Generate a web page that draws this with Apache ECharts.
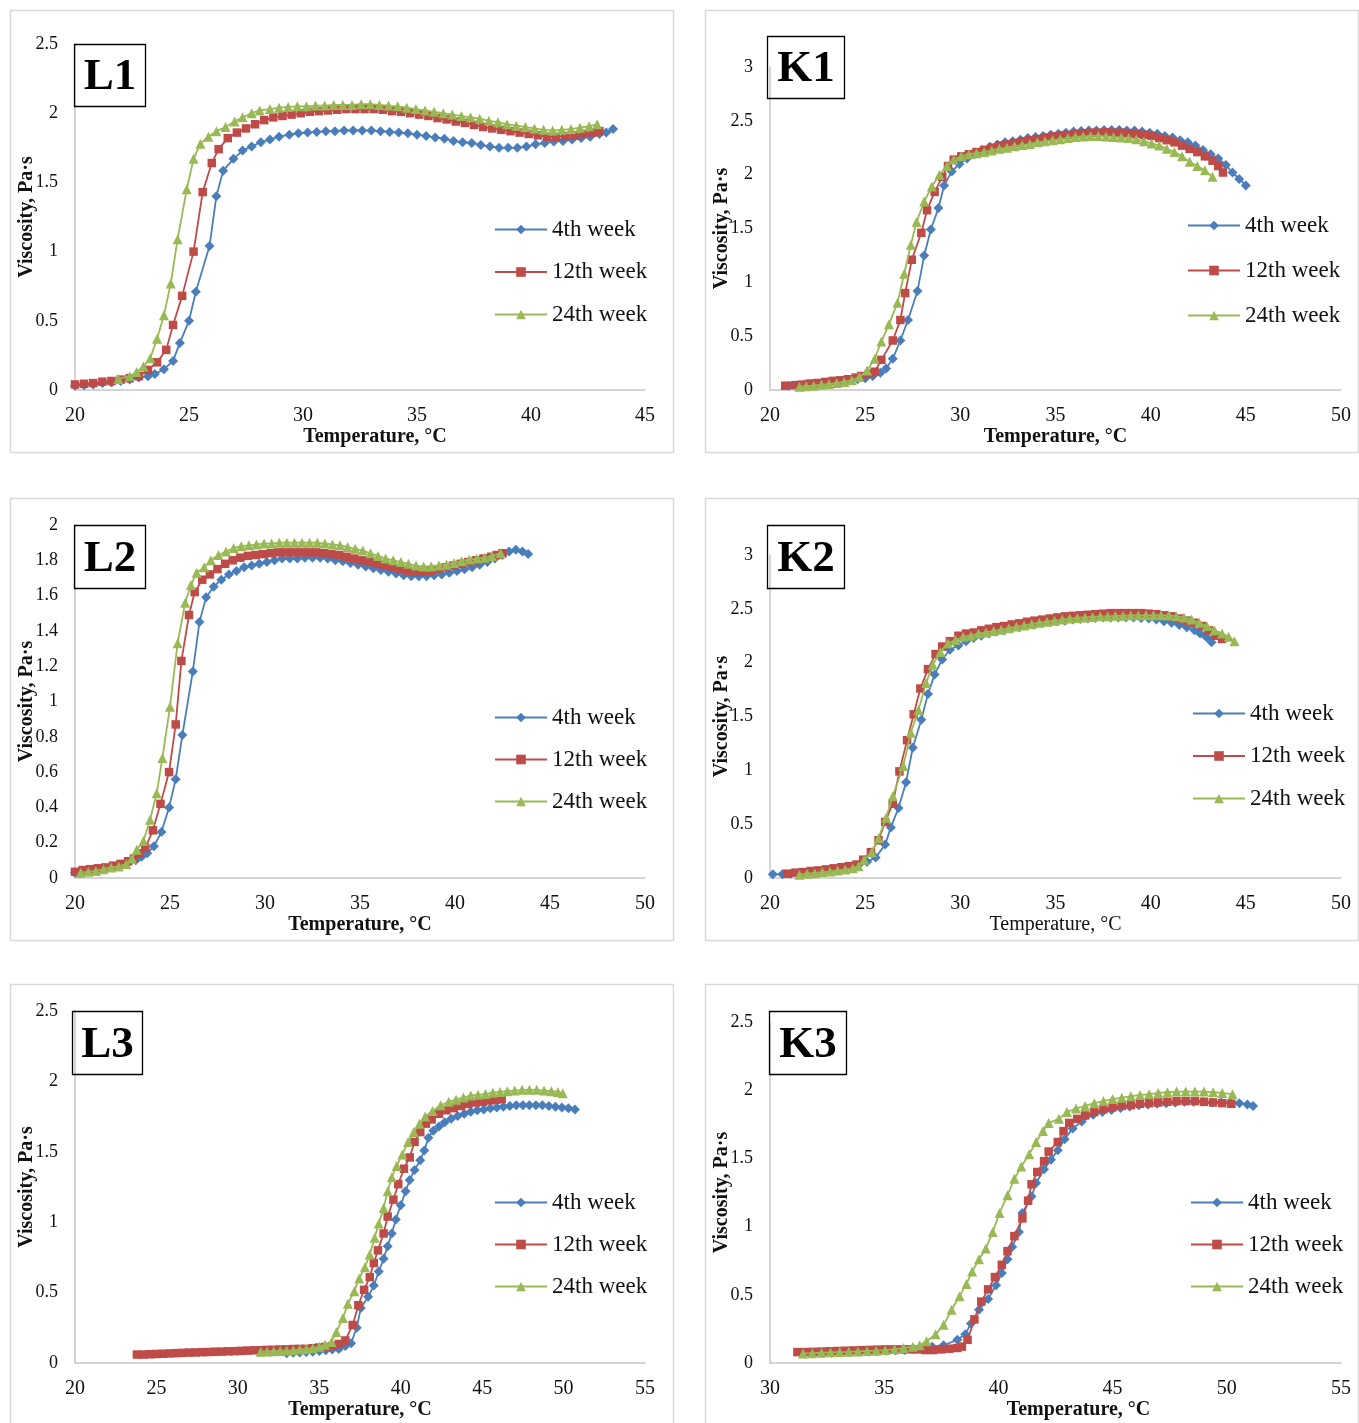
<!DOCTYPE html>
<html>
<head>
<meta charset="utf-8">
<title>Viscosity vs temperature</title>
<script src="https://cdn.jsdelivr.net/npm/echarts@6/dist/echarts.min.js"></script>
<style>
  html, body { margin: 0; padding: 0; background: #fff; }
  #chart { width: 1359px; height: 1423px; }
</style>
</head>
<body>
<div id="chart"></div>
<script>
// Series appearance shared by every panel
const weekNames = ['4th week', '12th week', '24th week'];
const weekColors = ['#4a7ebb', '#be4b48', '#98b954'];
const weekSymbols = ['diamond', 'rect', 'triangle'];
const weekSymbolSizes = [10, 8.5, 10];

// Panel labels, axis titles and axis ranges [min, max, interval]
const panelLabels = ['L1', 'K1', 'L2', 'K2', 'L3', 'K3'];
const xTitle = 'Temperature, \u00b0C';
const yTitle = 'Viscosity, Pa\u00b7s';
const xRanges = [[20, 45, 5], [20, 50, 5], [20, 50, 5], [20, 50, 5], [20, 55, 5], [30, 55, 5]];
const yRanges = [[0, 2.5, 0.5], [0, 3, 0.5], [0, 2, 0.2], [0, 3, 0.5], [0, 2.5, 0.5], [0, 2.5, 0.5]];

// ---- L1: [temperature °C, viscosity Pa·s] ----
const l1Week4 = [[20.0,0.03],[20.4,0.035],[20.8,0.04],[21.2,0.05],[21.6,0.055],[22.0,0.065],[22.4,0.075],[22.8,0.09],[23.2,0.10],[23.5,0.115],[23.9,0.15],[24.3,0.21],[24.6,0.34],[25.0,0.50],[25.3,0.71],[25.9,1.04],[26.2,1.40],[26.5,1.585],[26.95,1.67],[27.35,1.73],[27.75,1.76],[28.15,1.79],[28.55,1.81],[28.95,1.83],[29.4,1.845],[29.8,1.855],[30.2,1.86],[30.6,1.865],[31.0,1.87],[31.4,1.87],[31.8,1.875],[32.2,1.875],[32.6,1.875],[33.0,1.875],[33.4,1.87],[33.8,1.865],[34.2,1.86],[34.6,1.855],[35.0,1.845],[35.4,1.835],[35.8,1.825],[36.2,1.815],[36.6,1.80],[37.0,1.79],[37.4,1.785],[37.8,1.77],[38.2,1.76],[38.6,1.75],[39.0,1.75],[39.4,1.75],[39.8,1.76],[40.2,1.775],[40.6,1.785],[41.0,1.795],[41.4,1.80],[41.8,1.81],[42.2,1.82],[42.6,1.83],[43.0,1.85],[43.3,1.86],[43.6,1.885]];
const l1Week12 = [[20.0,0.04],[20.4,0.045],[20.8,0.05],[21.2,0.06],[21.6,0.065],[22.0,0.075],[22.4,0.085],[22.8,0.10],[23.2,0.145],[23.6,0.20],[24.0,0.29],[24.3,0.47],[24.7,0.68],[25.2,1.00],[25.6,1.43],[26.0,1.64],[26.3,1.74],[26.7,1.82],[27.1,1.86],[27.5,1.89],[27.9,1.92],[28.3,1.95],[28.7,1.97],[29.1,1.98],[29.5,1.99],[29.9,2.00],[30.3,2.01],[30.7,2.015],[31.1,2.02],[31.5,2.025],[31.9,2.03],[32.3,2.03],[32.7,2.03],[33.1,2.03],[33.5,2.025],[33.9,2.015],[34.3,2.01],[34.7,2.0],[35.1,1.99],[35.5,1.98],[35.9,1.965],[36.3,1.955],[36.7,1.94],[37.1,1.93],[37.5,1.915],[37.9,1.90],[38.3,1.89],[38.7,1.88],[39.1,1.87],[39.5,1.86],[39.9,1.85],[40.3,1.84],[40.7,1.83],[41.1,1.83],[41.5,1.835],[41.9,1.84],[42.3,1.85],[42.7,1.86],[43.0,1.87]];
const l1Week24 = [[21.9,0.08],[22.4,0.10],[22.7,0.13],[23.0,0.17],[23.3,0.23],[23.6,0.37],[23.9,0.54],[24.2,0.77],[24.5,1.09],[24.9,1.45],[25.2,1.67],[25.5,1.78],[25.85,1.83],[26.2,1.87],[26.6,1.90],[27.0,1.94],[27.35,1.97],[27.75,2.00],[28.1,2.02],[28.55,2.03],[28.95,2.04],[29.35,2.045],[29.75,2.05],[30.15,2.05],[30.55,2.055],[30.95,2.055],[31.35,2.06],[31.75,2.06],[32.15,2.06],[32.55,2.065],[32.95,2.065],[33.35,2.06],[33.75,2.055],[34.15,2.05],[34.55,2.04],[34.95,2.03],[35.35,2.02],[35.75,2.01],[36.15,2.0],[36.55,1.99],[36.95,1.98],[37.35,1.97],[37.75,1.96],[38.15,1.945],[38.55,1.935],[38.95,1.92],[39.35,1.91],[39.75,1.90],[40.15,1.89],[40.55,1.88],[40.95,1.875],[41.35,1.88],[41.75,1.885],[42.15,1.895],[42.55,1.905],[42.9,1.92]];

// ---- K1 ----
const k1Week4 = [[21.0,0.04],[21.4,0.045],[21.8,0.05],[22.2,0.055],[22.6,0.06],[23.0,0.07],[23.4,0.075],[23.8,0.08],[24.2,0.09],[24.6,0.10],[25.0,0.11],[25.4,0.13],[25.8,0.16],[26.1,0.20],[26.45,0.29],[26.85,0.46],[27.25,0.65],[27.75,0.92],[28.1,1.25],[28.45,1.49],[28.85,1.69],[29.15,1.90],[29.55,2.03],[29.95,2.10],[30.35,2.15],[30.75,2.19],[31.15,2.23],[31.55,2.26],[31.95,2.28],[32.35,2.30],[32.75,2.31],[33.15,2.325],[33.55,2.34],[33.95,2.35],[34.35,2.36],[34.75,2.37],[35.15,2.38],[35.55,2.39],[35.95,2.40],[36.35,2.405],[36.75,2.41],[37.15,2.41],[37.55,2.415],[37.95,2.415],[38.35,2.415],[38.75,2.41],[39.15,2.41],[39.55,2.40],[39.95,2.39],[40.35,2.38],[40.75,2.36],[41.15,2.345],[41.55,2.32],[41.95,2.30],[42.35,2.27],[42.75,2.23],[43.15,2.19],[43.55,2.15],[43.95,2.09],[44.3,2.02],[44.65,1.96],[45.0,1.90]];
const k1Week12 = [[20.8,0.04],[21.3,0.045],[21.7,0.05],[22.1,0.06],[22.5,0.065],[22.9,0.075],[23.3,0.085],[23.7,0.09],[24.1,0.10],[24.5,0.115],[24.8,0.13],[25.2,0.15],[25.5,0.17],[25.85,0.28],[26.45,0.46],[26.85,0.65],[27.1,0.90],[27.45,1.21],[27.95,1.46],[28.25,1.67],[28.65,1.84],[29.05,1.98],[29.35,2.08],[29.65,2.14],[30.05,2.17],[30.45,2.19],[30.85,2.21],[31.25,2.23],[31.65,2.25],[32.05,2.27],[32.45,2.28],[32.85,2.295],[33.25,2.31],[33.65,2.32],[34.05,2.33],[34.45,2.345],[34.85,2.355],[35.25,2.365],[35.65,2.37],[36.05,2.38],[36.45,2.385],[36.85,2.39],[37.25,2.39],[37.65,2.395],[38.05,2.39],[38.45,2.39],[38.85,2.385],[39.25,2.38],[39.65,2.37],[40.05,2.36],[40.45,2.34],[40.85,2.32],[41.25,2.30],[41.65,2.27],[42.05,2.24],[42.45,2.21],[42.85,2.17],[43.25,2.13],[43.55,2.08],[43.8,2.02]];
const k1Week24 = [[21.55,0.03],[21.9,0.035],[22.3,0.04],[22.7,0.05],[23.1,0.055],[23.5,0.065],[23.9,0.075],[24.3,0.09],[24.7,0.12],[25.1,0.18],[25.5,0.29],[25.85,0.45],[26.25,0.61],[26.7,0.81],[27.05,1.08],[27.4,1.35],[27.7,1.56],[28.1,1.75],[28.5,1.89],[28.9,2.00],[29.3,2.08],[29.65,2.14],[30.05,2.17],[30.45,2.19],[30.85,2.20],[31.25,2.21],[31.65,2.225],[32.05,2.24],[32.45,2.25],[32.85,2.265],[33.25,2.275],[33.65,2.285],[34.05,2.30],[34.45,2.31],[34.85,2.32],[35.25,2.33],[35.65,2.34],[36.05,2.35],[36.45,2.355],[36.85,2.36],[37.25,2.36],[37.65,2.355],[38.05,2.35],[38.45,2.345],[38.85,2.34],[39.25,2.33],[39.65,2.31],[40.05,2.29],[40.45,2.27],[40.85,2.24],[41.25,2.21],[41.65,2.17],[42.05,2.12],[42.45,2.08],[42.85,2.04],[43.25,1.98]];

// ---- L2 ----
const l2Week4 = [[20.0,0.03],[20.4,0.035],[20.8,0.04],[21.2,0.045],[21.6,0.05],[22.0,0.06],[22.4,0.07],[22.8,0.085],[23.2,0.10],[23.5,0.12],[23.8,0.14],[24.15,0.18],[24.55,0.26],[24.95,0.40],[25.3,0.56],[25.65,0.81],[26.2,1.17],[26.55,1.45],[26.9,1.59],[27.3,1.65],[27.7,1.69],[28.1,1.72],[28.5,1.74],[28.9,1.76],[29.3,1.77],[29.7,1.78],[30.1,1.79],[30.5,1.80],[30.9,1.81],[31.3,1.81],[31.7,1.81],[32.1,1.815],[32.5,1.815],[32.9,1.815],[33.3,1.81],[33.7,1.80],[34.1,1.795],[34.5,1.785],[34.9,1.775],[35.3,1.765],[35.7,1.755],[36.1,1.745],[36.5,1.735],[36.9,1.725],[37.3,1.715],[37.7,1.71],[38.1,1.71],[38.5,1.71],[38.9,1.715],[39.3,1.72],[39.7,1.73],[40.1,1.74],[40.5,1.75],[40.9,1.76],[41.3,1.775],[41.7,1.79],[42.1,1.81],[42.5,1.83],[42.85,1.85],[43.2,1.86],[43.55,1.85],[43.85,1.835]];
const l2Week12 = [[20.0,0.035],[20.4,0.045],[20.8,0.05],[21.2,0.055],[21.6,0.06],[22.0,0.07],[22.4,0.08],[22.8,0.095],[23.1,0.11],[23.4,0.14],[23.7,0.17],[24.1,0.27],[24.5,0.42],[24.95,0.60],[25.3,0.87],[25.6,1.23],[26.0,1.49],[26.3,1.62],[26.7,1.69],[27.1,1.72],[27.5,1.75],[27.9,1.78],[28.3,1.80],[28.7,1.815],[29.1,1.825],[29.5,1.83],[29.9,1.835],[30.3,1.84],[30.7,1.845],[31.1,1.845],[31.5,1.845],[31.9,1.845],[32.3,1.845],[32.7,1.845],[33.1,1.84],[33.5,1.835],[33.9,1.83],[34.3,1.82],[34.7,1.81],[35.1,1.80],[35.5,1.79],[35.9,1.78],[36.3,1.77],[36.7,1.76],[37.1,1.75],[37.5,1.74],[37.9,1.735],[38.3,1.735],[38.7,1.74],[39.1,1.75],[39.5,1.76],[39.9,1.77],[40.3,1.78],[40.7,1.79],[41.1,1.80],[41.5,1.81],[41.9,1.82],[42.2,1.83],[42.5,1.84]];
const l2Week24 = [[20.3,0.03],[20.7,0.035],[21.1,0.04],[21.5,0.05],[21.9,0.06],[22.3,0.065],[22.7,0.08],[23.0,0.11],[23.25,0.16],[23.6,0.21],[23.95,0.33],[24.3,0.48],[24.6,0.68],[25.0,0.97],[25.4,1.33],[25.8,1.56],[26.1,1.66],[26.4,1.73],[26.8,1.76],[27.15,1.80],[27.55,1.83],[27.95,1.85],[28.35,1.87],[28.75,1.88],[29.15,1.885],[29.55,1.89],[29.95,1.895],[30.35,1.895],[30.75,1.90],[31.15,1.90],[31.55,1.90],[31.95,1.90],[32.35,1.90],[32.75,1.90],[33.15,1.895],[33.55,1.89],[33.95,1.885],[34.35,1.875],[34.75,1.865],[35.15,1.855],[35.55,1.84],[35.95,1.825],[36.35,1.81],[36.75,1.80],[37.15,1.79],[37.55,1.78],[37.95,1.77],[38.35,1.765],[38.75,1.765],[39.15,1.77],[39.55,1.775],[39.95,1.785],[40.35,1.795],[40.75,1.805],[41.15,1.81],[41.55,1.815],[41.95,1.825],[42.4,1.84]];

// ---- K2 ----
const k2Week4 = [[20.15,0.035],[20.65,0.035],[21.1,0.04],[21.5,0.045],[21.9,0.05],[22.3,0.06],[22.7,0.065],[23.1,0.075],[23.5,0.085],[23.9,0.095],[24.3,0.11],[24.7,0.13],[25.1,0.15],[25.55,0.19],[26.05,0.31],[26.35,0.47],[26.75,0.65],[27.15,0.89],[27.5,1.21],[27.95,1.47],[28.3,1.71],[28.65,1.89],[29.05,2.03],[29.45,2.12],[29.9,2.16],[30.3,2.20],[30.7,2.23],[31.1,2.25],[31.5,2.27],[31.9,2.29],[32.3,2.30],[32.7,2.32],[33.1,2.33],[33.5,2.345],[33.9,2.355],[34.3,2.365],[34.7,2.375],[35.1,2.385],[35.5,2.39],[35.9,2.40],[36.3,2.405],[36.7,2.41],[37.1,2.415],[37.5,2.42],[37.9,2.42],[38.3,2.42],[38.7,2.42],[39.1,2.42],[39.5,2.415],[39.9,2.41],[40.3,2.40],[40.7,2.385],[41.1,2.37],[41.5,2.35],[41.9,2.33],[42.3,2.30],[42.6,2.27],[42.85,2.25],[43.05,2.22],[43.2,2.19]];
const k2Week12 = [[20.9,0.04],[21.35,0.05],[21.75,0.055],[22.15,0.065],[22.55,0.07],[22.95,0.08],[23.35,0.09],[23.75,0.10],[24.15,0.11],[24.55,0.125],[24.9,0.17],[25.3,0.24],[25.7,0.35],[26.05,0.52],[26.45,0.69],[26.8,0.99],[27.2,1.28],[27.55,1.52],[27.9,1.76],[28.3,1.94],[28.7,2.08],[29.05,2.15],[29.45,2.20],[29.9,2.25],[30.3,2.27],[30.7,2.28],[31.1,2.30],[31.5,2.315],[31.9,2.33],[32.3,2.34],[32.7,2.355],[33.1,2.365],[33.5,2.38],[33.9,2.39],[34.3,2.40],[34.7,2.41],[35.1,2.42],[35.5,2.43],[35.9,2.435],[36.3,2.44],[36.7,2.445],[37.1,2.45],[37.5,2.455],[37.9,2.46],[38.3,2.46],[38.7,2.46],[39.1,2.46],[39.5,2.46],[39.9,2.455],[40.3,2.45],[40.7,2.44],[41.1,2.43],[41.5,2.41],[41.9,2.39],[42.3,2.37],[42.7,2.34],[43.05,2.30],[43.4,2.25],[43.75,2.22]];
const k2Week24 = [[21.55,0.03],[21.95,0.04],[22.35,0.045],[22.75,0.055],[23.15,0.06],[23.55,0.07],[23.95,0.08],[24.35,0.09],[24.65,0.11],[24.95,0.17],[25.35,0.24],[25.7,0.37],[26.1,0.56],[26.45,0.76],[27.0,1.04],[27.4,1.35],[27.8,1.56],[28.2,1.81],[28.55,1.98],[28.95,2.10],[29.35,2.18],[29.75,2.21],[30.15,2.24],[30.55,2.25],[30.95,2.27],[31.35,2.28],[31.75,2.295],[32.15,2.305],[32.55,2.32],[32.95,2.335],[33.35,2.345],[33.75,2.36],[34.15,2.37],[34.55,2.38],[34.95,2.39],[35.35,2.40],[35.75,2.41],[36.15,2.415],[36.55,2.42],[36.95,2.425],[37.35,2.43],[37.75,2.43],[38.15,2.435],[38.55,2.435],[38.95,2.44],[39.35,2.44],[39.75,2.44],[40.15,2.44],[40.55,2.44],[40.95,2.44],[41.35,2.43],[41.75,2.42],[42.15,2.40],[42.55,2.37],[42.95,2.34],[43.35,2.30],[43.75,2.27],[44.1,2.24],[44.4,2.20]];

// ---- L3 ----
const l3Week4 = [[33.0,0.07],[33.4,0.072],[33.8,0.075],[34.2,0.078],[34.6,0.08],[35.0,0.085],[35.4,0.09],[35.8,0.095],[36.2,0.10],[36.6,0.12],[36.95,0.14],[37.3,0.25],[37.55,0.39],[38.0,0.47],[38.35,0.55],[38.65,0.65],[38.95,0.74],[39.2,0.83],[39.45,0.92],[39.7,1.02],[40.0,1.12],[40.3,1.22],[40.55,1.30],[40.85,1.37],[41.2,1.44],[41.45,1.51],[41.7,1.60],[42.0,1.65],[42.35,1.68],[42.7,1.71],[43.1,1.735],[43.5,1.755],[43.9,1.77],[44.3,1.785],[44.7,1.795],[45.1,1.80],[45.5,1.81],[45.9,1.815],[46.3,1.82],[46.7,1.825],[47.1,1.83],[47.5,1.83],[47.9,1.83],[48.3,1.83],[48.7,1.83],[49.1,1.825],[49.5,1.82],[49.9,1.815],[50.3,1.81],[50.7,1.80]];
const l3Week12 = [[23.8,0.06],[24.2,0.06],[24.6,0.062],[25.0,0.064],[25.4,0.066],[25.8,0.068],[26.2,0.07],[26.6,0.072],[27.0,0.074],[27.4,0.075],[27.8,0.077],[28.2,0.078],[28.6,0.08],[29.0,0.081],[29.4,0.083],[29.8,0.084],[30.2,0.086],[30.6,0.088],[31.0,0.09],[31.4,0.091],[31.8,0.093],[32.2,0.094],[32.6,0.096],[33.0,0.097],[33.4,0.099],[33.8,0.10],[34.2,0.10],[34.6,0.105],[35.0,0.11],[35.4,0.115],[35.8,0.12],[36.2,0.135],[36.6,0.16],[37.05,0.27],[37.4,0.41],[37.75,0.52],[38.1,0.61],[38.35,0.71],[38.6,0.80],[38.95,0.92],[39.2,1.04],[39.55,1.16],[39.85,1.27],[40.2,1.38],[40.55,1.46],[40.85,1.57],[41.2,1.64],[41.55,1.70],[41.9,1.73],[42.35,1.77],[42.8,1.795],[43.25,1.81],[43.7,1.825],[44.15,1.84],[44.6,1.85],[45.05,1.855],[45.5,1.865],[45.85,1.87],[46.2,1.875]];
const l3Week24 = [[31.4,0.08],[31.8,0.082],[32.2,0.084],[32.6,0.086],[33.0,0.088],[33.4,0.09],[33.8,0.095],[34.2,0.10],[34.6,0.105],[35.0,0.115],[35.35,0.13],[35.75,0.15],[36.05,0.22],[36.45,0.32],[36.75,0.42],[37.15,0.51],[37.45,0.60],[37.8,0.68],[38.1,0.77],[38.4,0.89],[38.65,0.99],[38.95,1.10],[39.2,1.22],[39.45,1.32],[39.75,1.40],[40.1,1.48],[40.45,1.57],[40.8,1.64],[41.15,1.70],[41.5,1.75],[41.95,1.79],[42.45,1.83],[42.95,1.855],[43.4,1.87],[43.85,1.885],[44.3,1.90],[44.75,1.905],[45.2,1.91],[45.65,1.92],[46.1,1.925],[46.55,1.93],[47.0,1.935],[47.45,1.94],[47.9,1.94],[48.35,1.94],[48.8,1.935],[49.25,1.93],[49.65,1.925],[49.95,1.915]];

// ---- K3 ----
const k3Week4 = [[31.5,0.07],[31.9,0.072],[32.3,0.074],[32.7,0.076],[33.1,0.078],[33.5,0.08],[33.9,0.082],[34.3,0.085],[34.7,0.087],[35.1,0.09],[35.5,0.092],[35.9,0.095],[36.3,0.10],[36.7,0.11],[37.1,0.12],[37.6,0.13],[38.2,0.17],[38.55,0.21],[38.8,0.29],[39.15,0.39],[39.55,0.47],[39.9,0.57],[40.15,0.66],[40.4,0.76],[40.6,0.85],[40.9,0.96],[41.05,1.10],[41.45,1.22],[41.65,1.32],[42.0,1.42],[42.3,1.49],[42.6,1.56],[42.9,1.64],[43.25,1.72],[43.65,1.77],[44.15,1.82],[44.55,1.84],[44.95,1.855],[45.35,1.87],[45.75,1.88],[46.15,1.89],[46.55,1.895],[46.95,1.90],[47.35,1.905],[47.75,1.91],[48.15,1.915],[48.55,1.915],[48.95,1.915],[49.35,1.91],[49.75,1.91],[50.15,1.91],[50.55,1.905],[50.9,1.895],[51.15,1.885]];
const k3Week12 = [[31.2,0.08],[31.55,0.08],[31.9,0.082],[32.25,0.084],[32.6,0.086],[32.95,0.088],[33.3,0.09],[33.65,0.092],[34.0,0.094],[34.35,0.096],[34.7,0.098],[35.05,0.10],[35.4,0.10],[35.75,0.10],[36.1,0.10],[36.45,0.10],[36.8,0.095],[37.15,0.095],[37.5,0.10],[37.85,0.105],[38.2,0.11],[38.4,0.12],[38.65,0.17],[38.95,0.32],[39.25,0.45],[39.55,0.54],[39.85,0.63],[40.15,0.72],[40.4,0.82],[40.7,0.93],[41.05,1.06],[41.3,1.19],[41.45,1.31],[41.7,1.40],[42.0,1.48],[42.2,1.55],[42.6,1.62],[42.85,1.70],[43.1,1.76],[43.45,1.79],[43.8,1.815],[44.2,1.84],[44.6,1.86],[45.0,1.875],[45.4,1.885],[45.8,1.89],[46.2,1.90],[46.6,1.905],[47.0,1.91],[47.4,1.915],[47.8,1.92],[48.2,1.92],[48.6,1.92],[49.0,1.915],[49.4,1.91],[49.8,1.905],[50.2,1.90]];
const k3Week24 = [[31.45,0.07],[31.85,0.072],[32.25,0.075],[32.65,0.078],[33.05,0.08],[33.45,0.082],[33.85,0.085],[34.25,0.088],[34.65,0.09],[35.05,0.095],[35.45,0.10],[35.85,0.11],[36.25,0.12],[36.55,0.13],[36.85,0.16],[37.25,0.21],[37.6,0.28],[37.95,0.39],[38.3,0.49],[38.6,0.58],[38.85,0.67],[39.15,0.76],[39.45,0.84],[39.75,0.96],[40.05,1.10],[40.4,1.23],[40.7,1.35],[41.0,1.44],[41.35,1.53],[41.65,1.62],[41.95,1.70],[42.2,1.76],[42.65,1.79],[43.0,1.84],[43.4,1.865],[43.8,1.885],[44.2,1.905],[44.6,1.92],[45.0,1.935],[45.4,1.945],[45.8,1.955],[46.2,1.965],[46.6,1.97],[47.0,1.98],[47.4,1.985],[47.8,1.99],[48.2,1.99],[48.6,1.99],[49.0,1.99],[49.4,1.985],[49.8,1.98],[50.25,1.97]];

const panelSeries = [
  [l1Week4, l1Week12, l1Week24],
  [k1Week4, k1Week12, k1Week24],
  [l2Week4, l2Week12, l2Week24],
  [k2Week4, k2Week12, k2Week24],
  [l3Week4, l3Week12, l3Week24],
  [k3Week4, k3Week12, k3Week24]
];

// Page layout of the six panels (pixels)
const layout = [
  { grid: [75, 44, 570, 346],   frame: [10.5, 10.5, 663, 442],   box: [74.5, 44.5, 71, 62],   legend: [494, 218, 19.5], xShift: 15, xBold: true },
  { grid: [770, 67, 571, 323],  frame: [705.5, 10.5, 653, 442],  box: [767.5, 36.5, 77, 62],  legend: [1187, 214, 22],  xShift: 0,  xBold: true },
  { grid: [75, 525, 570, 353],  frame: [10.5, 498.5, 663, 442],  box: [74.5, 525.5, 71, 63],  legend: [494, 706, 19],   xShift: 0,  xBold: true },
  { grid: [770, 555, 571, 323], frame: [705.5, 498.5, 653, 442], box: [767.5, 525.5, 77, 63], legend: [1192, 702, 19.5], xShift: 0,  xBold: false },
  { grid: [75, 1011, 570, 352], frame: [10.5, 984.5, 663, 445],  box: [72.5, 1011.5, 70, 63], legend: [494, 1191, 19],  xShift: 0,  xBold: true },
  { grid: [770, 1022, 571, 341],frame: [705.5, 984.5, 653, 445], box: [769.5, 1011.5, 77, 63],legend: [1190, 1191, 19], xShift: 23, xBold: true }
];

const FONT = '"Liberation Serif", "Times New Roman", Times, serif';
const AXIS_GRAY = '#c6c6c6';
const Y_TITLE_OFFSET = 48;   // axis line to centre of the vertical title

const grids = [], xAxes = [], yAxes = [], series = [], legends = [], graphics = [];

layout.forEach((p, i) => {
  grids.push({ left: p.grid[0], top: p.grid[1], width: p.grid[2], height: p.grid[3], containLabel: false });

  xAxes.push({
    type: 'value', gridIndex: i,
    min: xRanges[i][0], max: xRanges[i][1], interval: xRanges[i][2],
    axisLine: { show: true, onZero: false, lineStyle: { color: AXIS_GRAY, width: 1.5 } },
    axisTick: { show: false },
    splitLine: { show: false },
    axisLabel: { fontSize: 20, color: '#111', margin: 16, fontFamily: FONT },
    name: xTitle, nameLocation: 'middle', nameGap: 37, nameMoveOverlap: false,
    nameTextStyle: {
      fontSize: 20, fontWeight: p.xBold ? 'bold' : 'normal', color: '#111', fontFamily: FONT,
      padding: [0, 0, 0, p.xShift * 2]
    }
  });

  yAxes.push({
    type: 'value', gridIndex: i,
    min: yRanges[i][0], max: yRanges[i][1], interval: yRanges[i][2],
    axisLine: { show: true, lineStyle: { color: AXIS_GRAY, width: 1.5 } },
    axisTick: { show: false },
    splitLine: { show: false },
    axisLabel: { fontSize: 18, color: '#111', margin: 17, fontFamily: FONT }
  });

  panelSeries[i].forEach((data, k) => {
    series.push({
      type: 'line', name: weekNames[k],
      xAxisIndex: i, yAxisIndex: i,
      data: data,
      symbol: weekSymbols[k], symbolSize: weekSymbolSizes[k],
      showSymbol: true, showAllSymbol: true,
      lineStyle: { color: weekColors[k], width: 1.8 },
      itemStyle: { color: weekColors[k], borderWidth: 0 },
      emphasis: { disabled: true },
      z: 2 + k
    });
  });

  legends.push({
    orient: 'vertical',
    left: p.legend[0], top: p.legend[1], itemGap: p.legend[2],
    itemWidth: 52, itemHeight: 12,
    data: weekNames,
    selectedMode: false,
    textStyle: { fontSize: 23, lineHeight: 22, color: '#111', fontFamily: FONT },
    padding: 0
  });

  // panel frame
  graphics.push({
    type: 'rect', z: 0,
    shape: { x: p.frame[0], y: p.frame[1], width: p.frame[2], height: p.frame[3] },
    style: { fill: 'none', stroke: '#d9d9d9', lineWidth: 1.5 }
  });
  // vertical y-axis title, overlapping the tick label column as in the original layout
  graphics.push({
    type: 'text', z: 5,
    x: p.grid[0] - Y_TITLE_OFFSET, y: p.grid[1] + p.grid[3] / 2,
    rotation: Math.PI / 2,
    style: {
      text: yTitle, fill: '#111',
      font: 'bold 20px ' + FONT,
      textAlign: 'center', textVerticalAlign: 'middle'
    }
  });
  // panel label in its box
  graphics.push({
    type: 'rect', z: 10,
    shape: { x: p.box[0], y: p.box[1], width: p.box[2], height: p.box[3] },
    style: { fill: 'none', stroke: '#000', lineWidth: 1.3 }
  });
  graphics.push({
    type: 'text', z: 10,
    x: p.box[0] + p.box[2] / 2, y: p.box[1] + p.box[3] / 2 + 2,
    style: {
      text: panelLabels[i], fill: '#000',
      font: 'bold 45px ' + FONT,
      textAlign: 'center', textVerticalAlign: 'middle'
    }
  });
});

const chart = echarts.init(document.getElementById('chart'), null, { renderer: 'canvas' });
chart.setOption({
  animation: false,
  backgroundColor: '#ffffff',
  textStyle: { fontFamily: FONT },
  grid: grids,
  xAxis: xAxes,
  yAxis: yAxes,
  legend: legends,
  graphic: graphics,
  series: series
});
</script>
</body>
</html>
